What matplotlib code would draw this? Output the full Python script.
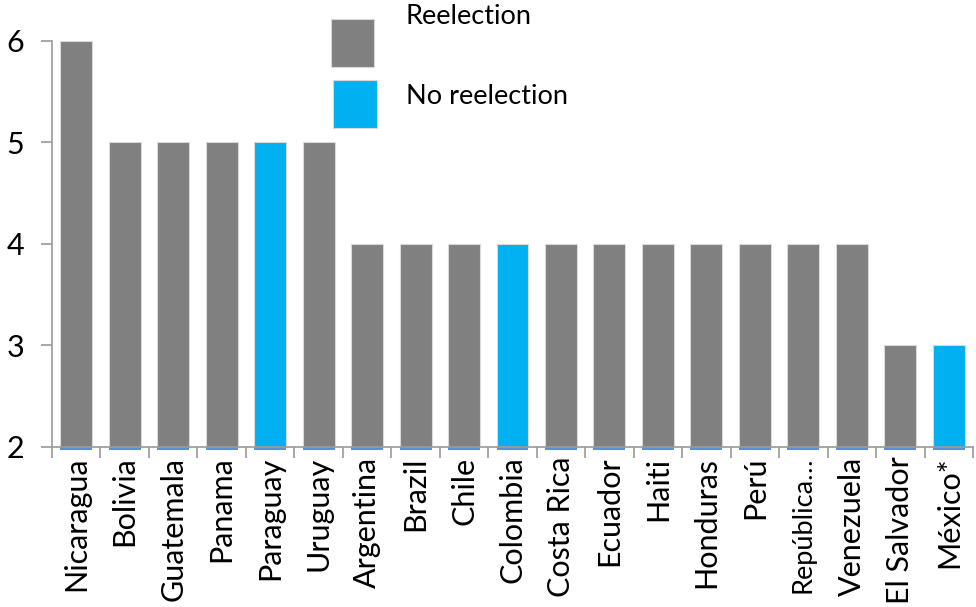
import matplotlib
matplotlib.use("Agg")
import matplotlib.pyplot as plt
from matplotlib.patches import Rectangle
import numpy as np

plt.rcParams['font.family'] = ['Lato', 'DejaVu Sans']

# data
countries = ["Nicaragua", "Bolivia", "Guatemala", "Panama", "Paraguay", "Uruguay",
             "Argentina", "Brazil", "Chile", "Colombia", "Costa Rica", "Ecuador",
             "Haiti", "Honduras", "Perú", "República…", "Venezuela", "El Salvador",
             "México*"]
years = [6, 5, 5, 5, 5, 5, 4, 4, 4, 4, 4, 4, 4, 4, 4, 4, 4, 3, 3]
no_reelection = ["Paraguay", "Colombia", "México*"]

gray = "#808080"
blue = "#00B0F0"
axis_col = "#9a9a9a"

fig = plt.figure(figsize=(9.76, 6.07), dpi=100)
ax = fig.add_axes([52 / 976, 0.2636, 921 / 976, 0.669])

x = np.arange(len(countries))
colors = [blue if c in no_reelection else gray for c in countries]
base = 2
ax.bar(x, [v - base for v in years], bottom=base, width=0.66, color=colors,
       edgecolor="#d9d9d9", linewidth=0.8, zorder=2)
# thin blue line under each bar
ax.bar(x, [-0.025] * len(x), bottom=base, width=0.66, color="#5b8fd0",
       linewidth=0, clip_on=False, zorder=1)

ax.set_xlim(-0.5, len(countries) - 0.5)
ax.set_ylim(2, 6)
ax.set_yticks([2, 3, 4, 5, 6])
ax.tick_params(axis='y', length=8, width=1.2, color=axis_col, labelsize=22, pad=12)

ax.set_xticks(np.arange(len(countries) + 1) - 0.5)
ax.set_xticklabels([])
ax.tick_params(axis='x', which='major', length=8, width=1.2, color=axis_col)
ax.set_xticks(x, minor=True)
labels = ax.set_xticklabels(countries, minor=True, rotation=90, fontsize=22)
ax.tick_params(axis='x', which='minor', length=0, pad=7)
# long label squeezed so it stays inside the figure
labels[countries.index("República…")].set_fontsize(19.5)

for s in ['top', 'right']:
    ax.spines[s].set_visible(False)
for s in ['left', 'bottom']:
    ax.spines[s].set_color(axis_col)
    ax.spines[s].set_linewidth(1.2)

# legend drawn manually like the original
fig.patches.append(Rectangle((331 / 976, 1 - 67 / 607), 43 / 976, 48 / 607,
                             transform=fig.transFigure, facecolor=gray,
                             edgecolor="#d9d9d9", linewidth=0.8))
fig.patches.append(Rectangle((333 / 976, 1 - 128 / 607), 44 / 976, 48 / 607,
                             transform=fig.transFigure, facecolor=blue,
                             edgecolor="#d9d9d9", linewidth=0.8))
fig.text(406 / 976, 1 - 17 / 607, "Reelection", fontsize=19.5, va='center')
fig.text(406 / 976, 1 - 96 / 607, "No reelection", fontsize=19.5, va='center')

fig.savefig("out.png", dpi=100)
